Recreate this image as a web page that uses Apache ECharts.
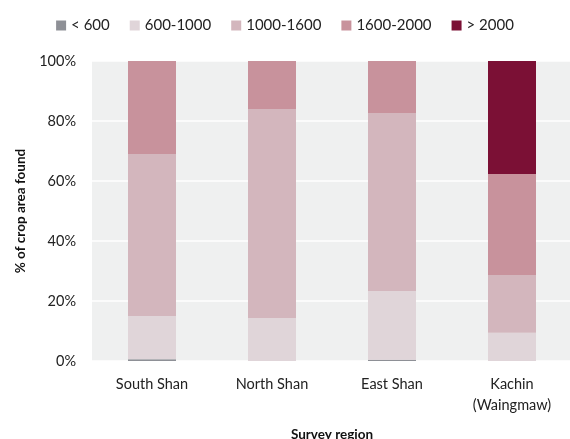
<!DOCTYPE html>
<html>
<head>
<meta charset="utf-8">
<script src="https://cdn.jsdelivr.net/npm/echarts@6/dist/echarts.min.js"></script>
<style>
  html, body { margin: 0; padding: 0; background: #fff; }
  #chart { width: 570px; height: 439px; }
</style>
</head>
<body>
<div id="chart"></div>
<script>
// regions and share of crop area per elevation class (%)
var regions = ['South Shan', 'North Shan', 'East Shan', 'Kachin\n(Waingmaw)'];
var classNames = ['< 600', '600-1000', '1000-1600', '1600-2000', '> 2000'];
var below600 = [0.6, 0, 0.4, 0];
var r600to1000 = [14.4, 14.3, 22.9, 9.4];
var r1000to1600 = [54, 69.7, 59.4, 19.3];
var r1600to2000 = [31, 16, 17.3, 33.6];
var above2000 = [0, 0, 0, 37.7];
var yTicks = [0, 20, 40, 60, 80, 100];

var color = ['#8e9096', '#e0d5d9', '#d3b6bd', '#c8929c', '#7b1035'];
var font = 'Lato, "Open Sans", sans-serif';

var chart = echarts.init(document.getElementById('chart'));
var values = [below600, r600to1000, r1000to1600, r1600to2000, above2000];

chart.setOption({
  animation: false,
  textStyle: { fontFamily: font },
  legend: {
    top: 13,
    left: 'center',
    itemWidth: 10,
    itemHeight: 10,
    itemGap: 20,
    icon: 'rect',
    textStyle: { fontSize: 15, color: '#222', fontFamily: font },
    data: classNames
  },
  grid: { left: 92, top: 61, width: 480, height: 300, outerBoundsMode: 'none', containLabel: false },
  xAxis: {
    type: 'category',
    data: regions,
    axisLine: { show: false },
    axisTick: { show: false },
    axisLabel: { fontSize: 14.5, color: '#222', margin: 13, lineHeight: 21 },
    name: 'Survey region',
    nameLocation: 'middle',
    nameGap: 67,
    nameTextStyle: { fontSize: 13.5, fontWeight: 'bold', color: '#111' }
  },
  yAxis: {
    type: 'value',
    min: 0,
    max: 100,
    interval: 20,
    axisLabel: {
      fontSize: 14.5, color: '#222', margin: 16,
      formatter: function (v) { return yTicks.indexOf(v) >= 0 ? v + '%' : ''; }
    },
    axisLine: { show: false },
    axisTick: { show: false },
    splitLine: { lineStyle: { color: '#ffffff', width: 1.5 } },
    name: '% of crop area found',
    nameLocation: 'middle',
    nameGap: 64,
    nameTextStyle: { fontSize: 13.5, fontWeight: 'bold', color: '#111' }
  },
  // grey plot background behind the grid
  graphic: [{
    type: 'rect',
    z: -10,
    silent: true,
    shape: { x: 92, y: 61, width: 480, height: 300 },
    style: { fill: '#eff0f0' }
  }],
  series: classNames.map(function (n, i) {
    return {
      name: n,
      type: 'bar',
      stack: 'total',
      barWidth: 48,
      itemStyle: { color: color[i] },
      z: 3,
      data: values[i]
    };
  })
});
</script>
</body>
</html>
